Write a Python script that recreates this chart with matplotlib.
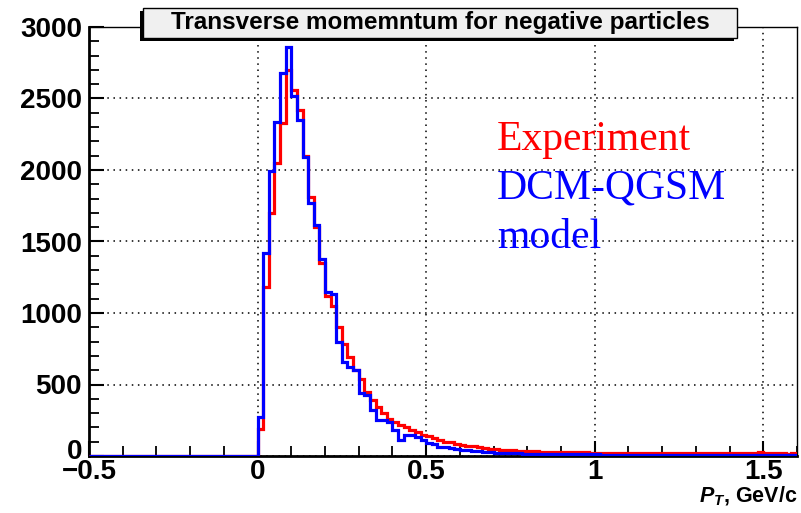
import numpy as np
import matplotlib.pyplot as plt
import matplotlib.transforms as mtransforms
from matplotlib.patches import Rectangle
from matplotlib.ticker import MultipleLocator

plt.rcParams['font.family'] = ['Liberation Sans', 'DejaVu Sans']
plt.rcParams['mathtext.fontset'] = 'custom'
plt.rcParams['mathtext.it'] = 'Liberation Sans:italic:bold'
plt.rcParams['mathtext.rm'] = 'Liberation Sans:bold'

# histogram binning: 60 bins per GeV/c, axis from -0.5 to 1.6
x_min, x_max = -0.5, 1.6
n_empty = 30      # bins below pT = 0 (all empty)

# counts per bin for pT >= 0
experiment = [190, 1180, 1700, 2050, 2330, 2700, 2560, 2420, 2100, 1810,
              1600, 1350, 1120, 1050, 900, 780, 690, 600, 540, 450,
              390, 340, 300, 260, 240, 220, 200, 185, 165, 150,
              140, 125, 112, 100, 95, 85, 80, 72, 68, 62,
              56, 52, 48, 45, 42, 40, 38, 36, 34, 33,
              31, 30, 29, 28, 27, 27, 26, 25, 25, 24,
              24, 23, 24, 22, 23, 21, 22, 20, 22, 21,
              20, 21, 19, 22, 20, 19, 21, 20, 18, 20,
              19, 20, 19, 18, 20, 19, 18, 21, 19, 30,
              18, 19, 18, 20, 17, 19]
dcm_qgsm = [273, 1420, 1993, 2336, 2678, 2860, 2520, 2350, 2090, 1770,
            1615, 1380, 1150, 1130, 800, 657, 622, 600, 440, 430,
            322, 255, 250, 235, 180, 112, 150, 148, 130, 110,
            92, 85, 65, 60, 55, 50, 44, 40, 36, 32,
            28, 26, 24, 22, 21, 19, 18, 17, 16, 15,
            15, 14, 14, 13, 13, 12, 12, 12, 11, 11,
            11, 10, 10, 10, 9, 10, 9, 9, 9, 8,
            9, 8, 8, 8, 7, 8, 7, 7, 7, 7,
            6, 7, 6, 6, 6, 7, 6, 6, 5, 6,
            5, 6, 5, 5, 5, 5]

x_ticks = [-0.5, 0, 0.5, 1, 1.5]
x_tick_labels = ['\u22120.5', '0', '0.5', '1', '1.5']
y_ticks = [0, 500, 1000, 1500, 2000, 2500, 3000]

n_bins = n_empty + len(experiment)
edges = np.linspace(x_min, x_max, n_bins + 1)
red = np.concatenate([np.zeros(n_empty), experiment])
blue = np.concatenate([np.zeros(n_empty), dcm_qgsm])

W, H = 801, 513
fig = plt.figure(figsize=(W / 100, H / 100), dpi=100)
ax = fig.add_axes([89 / W, 57 / H, 708 / W, 429 / H])

ax.stairs(red, edges, color='red', lw=2.3, zorder=3)
ax.stairs(blue, edges, color='blue', lw=2.3, zorder=4)

ax.set_xlim(x_min, x_max)
ax.set_ylim(0, 3000)
ax.set_xticks(x_ticks)
ax.set_xticklabels(x_tick_labels)
ax.set_yticks(y_ticks)
ax.set_yticklabels([str(v) for v in y_ticks])
ax.xaxis.set_minor_locator(MultipleLocator(0.1))
ax.yaxis.set_minor_locator(MultipleLocator(100))
ax.tick_params(which='major', direction='in', length=11, width=1.5,
               labelsize=20, pad=5, colors='black')
ax.tick_params(which='minor', direction='in', length=7, width=1.3)
ax.tick_params(axis='x', pad=2)
for lbl in ax.get_xticklabels() + ax.get_yticklabels():
    lbl.set_fontweight('bold')
# ROOT lifts the "0" label a little
zero_lbl = ax.get_yticklabels()[0]
zero_lbl.set_transform(zero_lbl.get_transform() +
                       mtransforms.ScaledTranslation(0, 5 / 72, fig.dpi_scale_trans))

ax.grid(True, which='major', color='black', linestyle=(0, (1, 3)), lw=1.1, zorder=1)
ax.set_axisbelow(True)
for side in ['left', 'bottom']:
    ax.spines[side].set_linewidth(2)
for side in ['top', 'right']:
    ax.spines[side].set_linewidth(1)

ax.text(1.0, -0.095, r'$P_T$, GeV/c', transform=ax.transAxes, ha='right', va='center',
        fontsize=15.5, fontweight='bold')

# legend-like labels
fig.text(497 / W, 1 - 150 / H, 'Experiment', color='red', family='Liberation Serif',
         fontsize=30, va='baseline')
fig.text(497 / W, 1 - 199 / H, 'DCM-QGSM', color='blue', family='Liberation Serif',
         fontsize=30, va='baseline')
fig.text(497 / W, 1 - 248 / H, 'model', color='blue', family='Liberation Serif',
         fontsize=30, va='baseline')

# title box with shadow
bx0, bx1, by0, by1 = 143, 737, 8, 38
fig.patches.append(Rectangle(((bx0 - 3) / W, 1 - (by1 + 3) / H), (bx1 - bx0) / W, (by1 - by0) / H,
                             transform=fig.transFigure, facecolor='black', edgecolor='black',
                             lw=0, zorder=5))
fig.patches.append(Rectangle((bx0 / W, 1 - by1 / H), (bx1 - bx0) / W, (by1 - by0) / H,
                             transform=fig.transFigure, facecolor='#f0f0f0', edgecolor='black',
                             lw=1, zorder=6))
fig.text((bx0 + bx1) / 2 / W, 1 - (by0 + by1) / 2 / H, 'Transverse momemntum for negative particles',
         ha='center', va='center', fontsize=17.5, fontweight='bold', zorder=7)

fig.savefig('out.png', dpi=100)
